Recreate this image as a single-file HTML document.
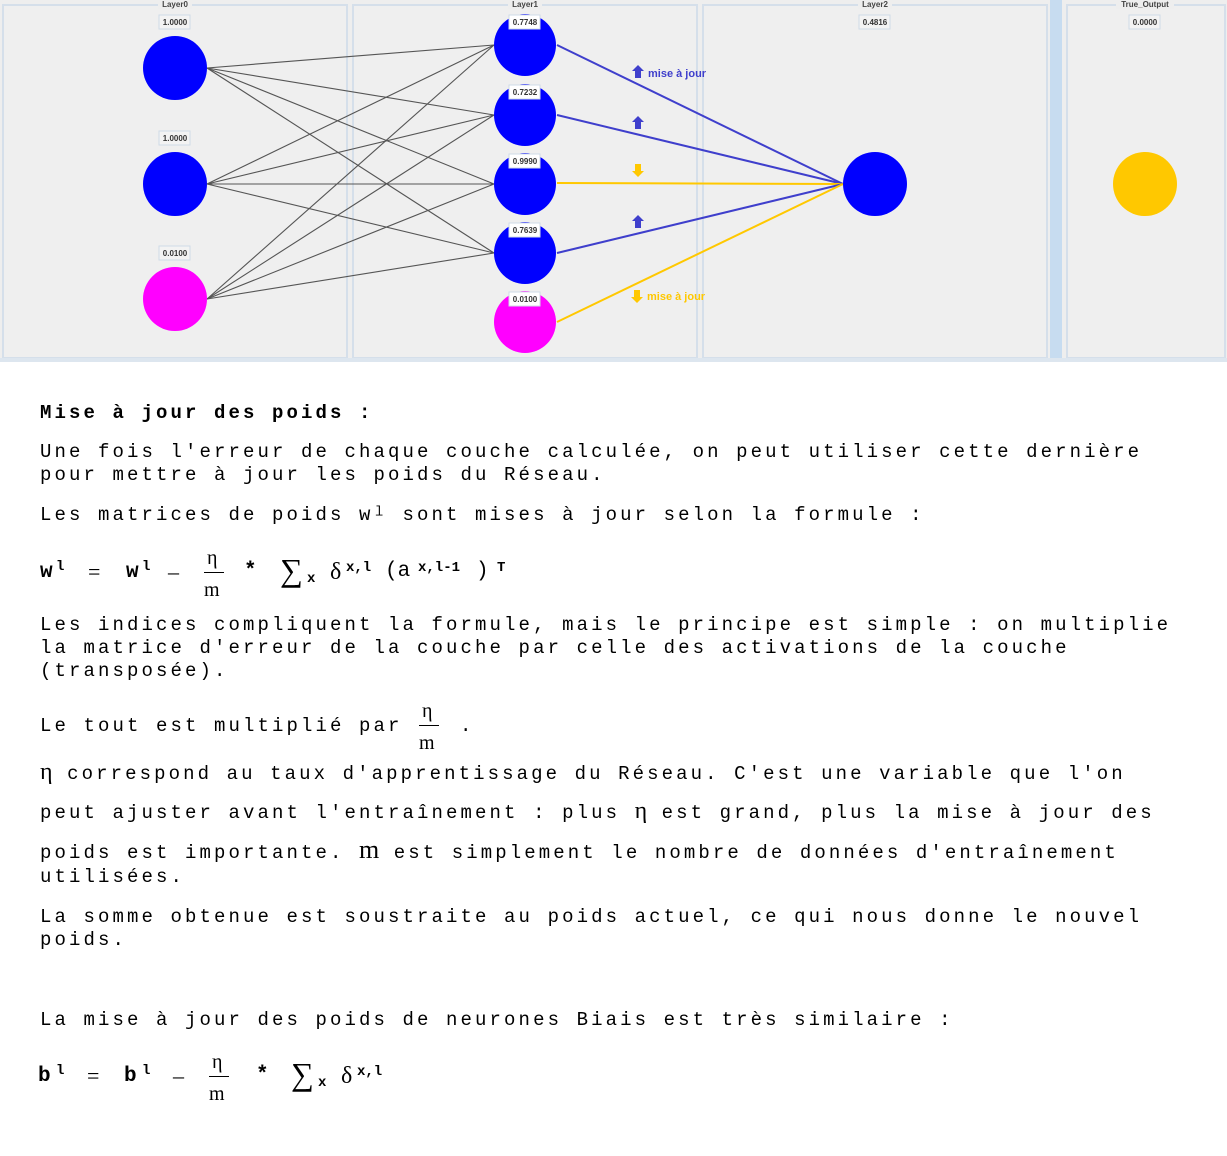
<!DOCTYPE html>
<html><head><meta charset="utf-8"><style>
html,body{margin:0;padding:0;background:#fff;width:1227px;height:1156px;overflow:hidden;position:relative}
.t{position:absolute;left:40px;font-family:"Liberation Mono",monospace;font-size:19px;letter-spacing:3.1px;line-height:23px;white-space:pre;color:#000}
.m{position:absolute;font-family:"Liberation Mono",monospace;font-size:21px;font-weight:bold;white-space:pre;line-height:24px}
.s{position:absolute;font-family:"Liberation Mono",monospace;font-size:14px;font-weight:bold;white-space:pre;line-height:16px}
.f{position:absolute;font-family:"Liberation Serif",serif;font-size:20px;line-height:20px;white-space:pre}
.bar{position:absolute;height:1px;background:#000}
</style></head><body>
<svg width="1227" height="362" style="position:absolute;left:0;top:0" font-family="Liberation Sans,sans-serif">
<rect x="0" y="0" width="1227" height="362" fill="#eeeeee"/>
<g fill="#efefef" stroke="#d5dfea" stroke-width="2">
<rect x="3" y="5" width="344" height="353"/>
<rect x="353" y="5" width="344" height="353"/>
<rect x="703" y="5" width="344" height="353"/>
<rect x="1067" y="5" width="158" height="353"/>
</g>
<rect x="1050" y="0" width="12" height="362" fill="#c7dcf0"/>
<rect x="0" y="358" width="1227" height="4" fill="#dde6ef"/>
<g font-size="8" font-weight="bold" fill="#444" text-anchor="middle">
<rect x="158" y="0" width="34" height="9" fill="#eeeeee"/><text x="175" y="7">Layer0</text>
<rect x="508" y="0" width="34" height="9" fill="#eeeeee"/><text x="525" y="7">Layer1</text>
<rect x="858" y="0" width="34" height="9" fill="#eeeeee"/><text x="875" y="7">Layer2</text>
<rect x="1116" y="0" width="58" height="9" fill="#eeeeee"/><text x="1145" y="7">True_Output</text>
</g>
<g stroke="#555" stroke-width="1.1">
<line x1="207" y1="68" x2="494" y2="45"/><line x1="207" y1="68" x2="494" y2="115"/><line x1="207" y1="68" x2="494" y2="184"/><line x1="207" y1="68" x2="494" y2="253"/>
<line x1="207" y1="184" x2="494" y2="45"/><line x1="207" y1="184" x2="494" y2="115"/><line x1="207" y1="184" x2="494" y2="184"/><line x1="207" y1="184" x2="494" y2="253"/>
<line x1="207" y1="299" x2="494" y2="45"/><line x1="207" y1="299" x2="494" y2="115"/><line x1="207" y1="299" x2="494" y2="184"/><line x1="207" y1="299" x2="494" y2="253"/>
</g>
<g stroke-width="2">
<line x1="557" y1="45" x2="843" y2="184" stroke="#3f3fcc"/>
<line x1="557" y1="115" x2="843" y2="184" stroke="#3f3fcc"/>
<line x1="557" y1="183" x2="843" y2="184" stroke="#ffc800"/>
<line x1="557" y1="253" x2="843" y2="184" stroke="#3f3fcc"/>
<line x1="557" y1="322" x2="843" y2="184" stroke="#ffc800"/>
</g>
<g fill="#3f3fcc">
<path d="M638,65 l6,6 h-3 v7 h-6 v-7 h-3z"/>
<path d="M638,116 l6,6 h-3 v7 h-6 v-7 h-3z"/>
<path d="M638,215 l6,6 h-3 v7 h-6 v-7 h-3z"/>
<text x="648" y="77" font-size="11" font-weight="bold">mise à jour</text>
</g>
<g fill="#ffc800">
<path d="M638,177 l6,-6 h-3 v-7 h-6 v7 h-3z"/>
<path d="M637,303 l6,-6 h-3 v-7 h-6 v7 h-3z"/>
<text x="647" y="300" font-size="11" font-weight="bold">mise à jour</text>
</g>
<g fill="#0000ff">
<ellipse cx="175" cy="68" rx="32" ry="32"/>
<ellipse cx="175" cy="184" rx="32" ry="32"/>
<ellipse cx="525" cy="45" rx="31" ry="31"/>
<ellipse cx="525" cy="115" rx="31" ry="31"/>
<ellipse cx="525" cy="184" rx="31" ry="31"/>
<ellipse cx="525" cy="253" rx="31" ry="31"/>
<ellipse cx="875" cy="184" rx="32" ry="32"/>
</g>
<ellipse cx="175" cy="299" rx="32" ry="32" fill="#ff00ff"/>
<ellipse cx="525" cy="322" rx="31" ry="31" fill="#ff00ff"/>
<ellipse cx="1145" cy="184" rx="32" ry="32" fill="#ffc800"/>
<g font-size="8" font-weight="bold" fill="#333" text-anchor="middle">
<g fill="#f3f3f3" stroke="#cfdbe7"><rect x="159" y="15" width="31" height="14"/><rect x="159" y="131" width="31" height="14"/><rect x="159" y="246" width="31" height="14"/>
<rect x="509" y="15" width="31" height="14" fill="#fff"/><rect x="509" y="85" width="31" height="14" fill="#fff"/><rect x="509" y="154" width="31" height="14" fill="#fff"/><rect x="509" y="223" width="31" height="14" fill="#fff"/><rect x="509" y="292" width="31" height="14" fill="#fff"/>
<rect x="859" y="15" width="31" height="14"/><rect x="1129" y="15" width="31" height="14"/></g>
<text x="175" y="25">1.0000</text><text x="175" y="141">1.0000</text><text x="175" y="256">0.0100</text>
<text x="525" y="25">0.7748</text><text x="525" y="95">0.7232</text><text x="525" y="164">0.9990</text><text x="525" y="233">0.7639</text><text x="525" y="302">0.0100</text>
<text x="875" y="25">0.4816</text><text x="1145" y="25">0.0000</text>
</g>
</svg>

<div class="t" style="top:402px;font-weight:bold">Mise à jour des poids :</div>
<div class="t" style="top:441px">Une fois l'erreur de chaque couche calculée, on peut utiliser cette dernière
pour mettre à jour les poids du Réseau.</div>
<div class="t" style="top:504px">Les matrices de poids wˡ sont mises à jour selon la formule :</div>

<!-- formula 1 -->
<div class="m" style="left:40px;top:561px">w</div><div class="s" style="left:56px;top:559px">l</div>
<div class="f" style="left:88px;top:562px;font-size:22px">=</div>
<div class="m" style="left:126px;top:561px">w</div><div class="s" style="left:142px;top:559px">l</div>
<div class="f" style="left:168px;top:562px;font-size:22px">–</div>
<div class="f" style="left:207px;top:548px">η</div><div class="bar" style="left:204px;top:572px;width:20px"></div><div class="f" style="left:204px;top:580px">m</div>
<div class="m" style="left:244px;top:560px">*</div>
<div class="f" style="left:280px;top:553px;font-size:32px;line-height:34px">∑</div>
<div class="s" style="left:307px;top:571px">x</div>
<div class="f" style="left:330px;top:560px;font-size:24px;line-height:24px">δ</div>
<div class="s" style="left:346px;top:560px">x,l</div>
<div class="m" style="left:385px;top:560px;font-weight:normal">(a</div>
<div class="s" style="left:418px;top:560px">x,l-1</div>
<div class="m" style="left:476px;top:560px;font-weight:normal">)</div>
<div class="s" style="left:497px;top:560px">T</div>

<div class="t" style="top:614px">Les indices compliquent la formule, mais le principe est simple : on multiplie
la matrice d'erreur de la couche par celle des activations de la couche
(transposée).</div>
<div class="t" style="top:715px">Le tout est multiplié par</div>
<div class="t" style="top:715px;left:460px">.</div>
<div class="f" style="left:422px;top:701px">η</div><div class="bar" style="left:419px;top:725px;width:20px"></div><div class="f" style="left:419px;top:733px">m</div>

<div class="t" style="top:761px"><span style="font-family:'Liberation Serif',serif;font-size:24px;letter-spacing:0">η</span> correspond au taux d'apprentissage du Réseau. C'est une variable que l'on</div>
<div class="t" style="top:800px">peut ajuster avant l'entraînement : plus <span style="font-family:'Liberation Serif',serif;font-size:24px;letter-spacing:0">η</span> est grand, plus la mise à jour des</div>
<div class="t" style="top:838px">poids est importante. <span style="font-family:'Liberation Serif',serif;font-size:26px;letter-spacing:0">m</span> est simplement le nombre de données d'entraînement</div>
<div class="t" style="top:866px">utilisées.</div>
<div class="t" style="top:906px">La somme obtenue est soustraite au poids actuel, ce qui nous donne le nouvel
poids.</div>
<div class="t" style="top:1009px">La mise à jour des poids de neurones Biais est très similaire :</div>

<!-- formula 2 -->
<div class="m" style="left:38px;top:1065px">b</div><div class="s" style="left:56px;top:1063px">l</div>
<div class="f" style="left:87px;top:1066px;font-size:22px">=</div>
<div class="m" style="left:124px;top:1065px">b</div><div class="s" style="left:142px;top:1063px">l</div>
<div class="f" style="left:173px;top:1066px;font-size:22px">–</div>
<div class="f" style="left:212px;top:1052px">η</div><div class="bar" style="left:209px;top:1076px;width:20px"></div><div class="f" style="left:209px;top:1084px">m</div>
<div class="m" style="left:256px;top:1064px">*</div>
<div class="f" style="left:291px;top:1057px;font-size:32px;line-height:34px">∑</div>
<div class="s" style="left:318px;top:1075px">x</div>
<div class="f" style="left:341px;top:1064px;font-size:24px;line-height:24px">δ</div>
<div class="s" style="left:357px;top:1064px">x,l</div>
</body></html>
